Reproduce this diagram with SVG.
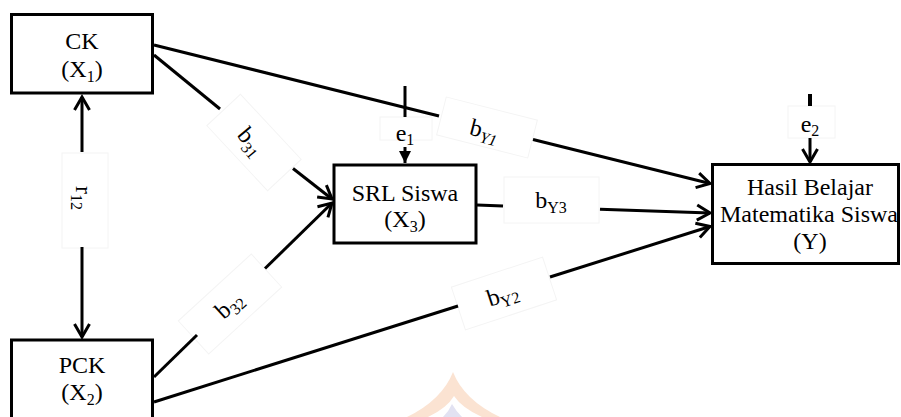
<svg xmlns="http://www.w3.org/2000/svg" width="901" height="417" viewBox="0 0 901 417">
<style>
  .box { fill: #ffffff; stroke: #000000; stroke-width: 3; }
  .lbl { fill: #ffffff; stroke: #f4f4f4; stroke-width: 1; }
  .ln { stroke: #000000; stroke-width: 3; fill: none; }
  .t { font-family: "Liberation Serif", "Times New Roman", serif; font-size: 24px; fill: #000000; text-anchor: middle; }
  .s { font-size: 16px; }
</style>
<defs>
  <marker id="open" markerUnits="userSpaceOnUse" markerWidth="18" markerHeight="20" viewBox="0 0 18 20" refX="15" refY="10" orient="auto">
    <path d="M2,2.5 L15,10 L2,17.5" fill="none" stroke="#000000" stroke-width="3" stroke-linejoin="miter"/>
  </marker>
  <marker id="solid" markerUnits="userSpaceOnUse" markerWidth="12" markerHeight="12" viewBox="0 0 12 12" refX="12" refY="6" orient="auto">
    <path d="M0,0 L12,6 L0,12 Z" fill="#000000"/>
  </marker>
</defs>
<rect width="901" height="417" fill="#ffffff"/>

<!-- faint watermark -->
<g id="watermark">
  <path d="M453,372 Q442,400 407,417 L500,417 Q464,400 453,372 Z" fill="#fbe3d2"/>
  <path d="M454,396 Q447,408 428,417 L482,417 Q462,408 454,396 Z" fill="#ffffff"/>
  <path d="M452,404 Q449,411 443,417 L462,417 Q456,411 452,404 Z" fill="#e2e2f2"/>
</g>

<!-- faint label boxes -->
<g id="label-boxes">
  <rect class="lbl" x="62" y="153" width="46" height="95"/>
  <rect class="lbl" x="380" y="117" width="52" height="23"/>
  <rect class="lbl" x="788" y="106" width="47" height="32"/>
  <rect class="lbl" x="504" y="177" width="95" height="46"/>
  <rect class="lbl" x="-44.5" y="-23" width="89" height="46" transform="translate(254,142.5) rotate(47)"/>
  <rect class="lbl" x="-49.5" y="-22.5" width="99" height="45" transform="translate(230,304) rotate(-42.5)"/>
  <rect class="lbl" x="-47" y="-19.5" width="94" height="39" transform="translate(487,127.5) rotate(14.3)"/>
  <rect class="lbl" x="-48" y="-22.5" width="96" height="45" transform="translate(504,293.5) rotate(-18.2)"/>
</g>

<g id="connectors">
  <!-- r12 -->
  <line class="ln" x1="82" y1="152" x2="82" y2="97" marker-end="url(#open)"/>
  <line class="ln" x1="82" y1="247" x2="82" y2="337" marker-end="url(#open)"/>
  <!-- b31 -->
  <line class="ln" x1="154" y1="55" x2="220" y2="109"/>
  <line class="ln" x1="293" y1="168.5" x2="332" y2="199" marker-end="url(#open)"/>
  <!-- b32 -->
  <line class="ln" x1="154" y1="377" x2="197" y2="335"/>
  <line class="ln" x1="265" y1="268.5" x2="332" y2="203" marker-end="url(#open)"/>
  <!-- bY1 -->
  <line class="ln" x1="154" y1="45" x2="439" y2="116"/>
  <line class="ln" x1="533" y1="139.5" x2="710" y2="183.5" marker-end="url(#open)"/>
  <!-- bY3 -->
  <line class="ln" x1="477" y1="205" x2="503" y2="206"/>
  <line class="ln" x1="600" y1="209.3" x2="710" y2="213" marker-end="url(#open)"/>
  <!-- bY2 -->
  <line class="ln" x1="154" y1="402" x2="458" y2="306"/>
  <line class="ln" x1="550" y1="277" x2="710" y2="226.5" marker-end="url(#open)"/>
  <!-- e1 -->
  <line class="ln" x1="405" y1="86" x2="405" y2="117"/>
  <line class="ln" x1="405" y1="147" x2="405" y2="163" marker-end="url(#solid)"/>
  <!-- e2 -->
  <line x1="810" y1="94" x2="810" y2="106" stroke="#000000" stroke-width="4"/>
  <line class="ln" x1="810" y1="138" x2="810" y2="162" marker-end="url(#open)"/>
</g>

<g id="connector-labels">
  <text class="t" transform="translate(82,198) rotate(90)" x="0" y="6">r<tspan class="s" dy="5">12</tspan></text>
  <text class="t" x="405" y="141">e<tspan class="s" dy="4">1</tspan></text>
  <text class="t" x="810" y="132">e<tspan class="s" dy="4">2</tspan></text>
  <text class="t" x="551" y="208">b<tspan class="s" dy="5">Y3</tspan></text>
  <text class="t" transform="translate(249,143) rotate(50)" x="0" y="5">b<tspan class="s" dy="5">31</tspan></text>
  <text class="t" transform="translate(230,306) rotate(-42.5)" x="0" y="6">b<tspan class="s" dy="5">32</tspan></text>
  <text class="t" transform="translate(484,132) rotate(14.3)" x="0" y="6">b<tspan class="s" dy="5" font-style="italic">Y1</tspan></text>
  <text class="t" transform="translate(503,296) rotate(-18.2)" x="0" y="6">b<tspan class="s" dy="5">Y2</tspan></text>
</g>

<g id="node-ck">
  <rect class="box" x="11.5" y="14.5" width="141" height="78.5"/>
  <text class="t" x="82" y="49">CK</text>
  <text class="t" x="82" y="77">(X<tspan class="s" dy="5">1</tspan><tspan dy="-5">)</tspan></text>
</g>

<g id="node-pck">
  <rect class="box" x="11.5" y="340" width="141" height="90"/>
  <text class="t" x="82" y="373">PCK</text>
  <text class="t" x="82" y="400">(X<tspan class="s" dy="5">2</tspan><tspan dy="-5">)</tspan></text>
</g>

<g id="node-srl">
  <rect class="box" x="334" y="165" width="142" height="78"/>
  <text class="t" x="405" y="201">SRL Siswa</text>
  <text class="t" x="405" y="227">(X<tspan class="s" dy="5">3</tspan><tspan dy="-5">)</tspan></text>
</g>

<g id="node-y">
  <rect class="box" x="712.5" y="164.5" width="186" height="99"/>
  <text class="t" x="810" y="195">Hasil Belajar</text>
  <text class="t" x="809" y="222">Matematika Siswa</text>
  <text class="t" x="810" y="249">(Y)</text>
</g>
</svg>
